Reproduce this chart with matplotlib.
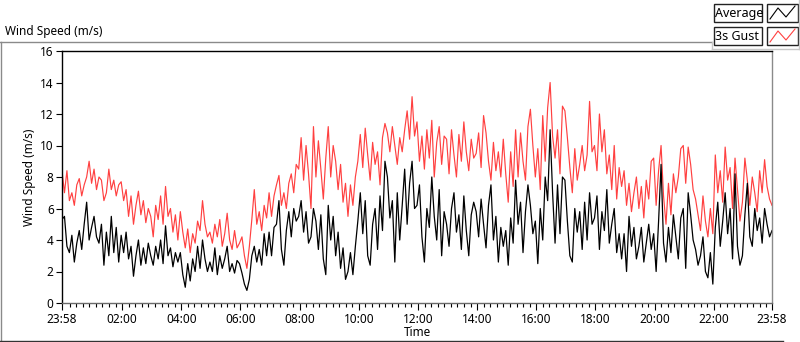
import numpy as np
import matplotlib
matplotlib.use("Agg")
import matplotlib.pyplot as plt
from matplotlib.lines import Line2D
from matplotlib.patches import Rectangle

plt.rcParams['font.family'] = ['Noto Sans', 'DejaVu Sans']

# one sample every 5 minutes, starting 23:58 the day before
minutes = np.arange(0, 1441, 5)

gust = [
    8.4, 7.0, 8.4, 6.5, 7.0, 6.2, 7.5, 7.9, 6.8, 7.5, 8.0, 9.0,
    7.6, 8.5, 7.2, 8.0, 7.8, 6.5, 7.0, 8.5, 7.2, 7.8, 6.8, 7.5,
    7.7, 6.5, 7.2, 5.5, 6.8, 5.0, 6.2, 7.1, 5.6, 6.5, 5.1, 6.0,
    5.5, 4.2, 6.2, 5.3, 6.8, 5.0, 7.4, 5.5, 6.0, 4.5, 5.6, 4.0,
    5.8, 4.5, 3.5, 4.7, 3.2, 4.4, 3.8, 5.2, 4.6, 6.5, 5.0, 4.2,
    4.5, 3.8, 5.0, 4.2, 5.3, 3.6, 4.4, 5.7, 4.0, 3.4, 4.6, 3.5,
    3.8, 4.2, 3.0, 2.2, 3.6, 5.3, 7.2, 5.0, 5.8, 4.6, 6.2, 5.4,
    7.0, 5.5, 6.8, 7.5, 8.1, 6.2, 7.0, 6.0, 7.6, 8.2, 7.0, 8.8,
    8.5, 10.5, 7.8, 10.0, 8.2, 6.0, 11.2, 8.0, 10.3, 8.5, 6.6, 9.2,
    11.2, 8.0, 10.0, 9.0, 7.2, 8.8, 6.4, 7.6, 5.5, 7.5, 6.2, 8.0,
    9.0, 10.7, 8.6, 11.1, 9.4, 7.8, 10.2, 8.8, 9.6, 7.5, 10.5, 11.4,
    10.8, 9.6, 11.2, 10.0, 8.8, 10.5, 9.6, 11.0, 12.2, 10.4, 13.1, 10.6,
    11.5, 9.0, 10.6, 8.5, 11.0, 9.2, 11.6, 8.0, 10.2, 11.2, 8.8, 10.6,
    10.4, 8.2, 11.0, 9.4, 8.0, 10.7, 9.0, 11.5, 9.6, 8.4, 10.4, 9.2,
    9.5, 10.8, 8.6, 11.9, 10.8, 9.0, 7.8, 10.2, 8.4, 9.6, 8.0, 10.4,
    8.2, 6.4, 9.6, 7.4, 11.0, 8.0, 10.8, 9.0, 7.8, 11.2, 12.3, 10.0,
    8.0, 9.8, 7.2, 11.9, 9.0, 12.4, 14.0, 10.6, 9.2, 11.0, 8.2, 12.5,
    12.2, 10.5, 8.6, 7.0, 9.8, 7.8, 8.8, 10.0, 8.4, 9.4, 12.8, 9.6,
    10.0, 8.4, 12.0, 9.6, 11.0, 8.2, 9.4, 7.2, 10.0, 6.6, 8.6, 7.4,
    8.4, 6.2, 7.6, 5.8, 7.0, 8.0, 6.0, 7.4, 5.4, 7.8, 6.6, 9.0,
    9.2, 6.2, 8.4, 10.0, 6.8, 5.0, 7.6, 5.6, 8.2, 7.0, 8.0, 9.8,
    10.0, 7.6, 9.9, 8.8, 7.2, 6.6, 5.6, 4.6, 6.8, 5.2, 4.2, 6.0,
    4.4, 9.4, 7.0, 8.4, 6.4, 9.9, 7.8, 8.6, 6.0, 9.2, 7.2, 5.2,
    6.4, 9.2, 7.8, 6.2, 8.0, 7.0, 5.8, 8.4, 7.0, 9.1, 7.4, 6.6, 6.2,
]

average = [
    5.3, 5.5, 3.6, 3.2, 4.3, 2.6, 3.8, 4.6, 3.4, 5.0, 6.4, 4.0,
    4.8, 5.5, 4.2, 3.8, 5.0, 2.4, 4.5, 3.0, 5.5, 3.2, 4.8, 2.6,
    4.3, 3.2, 4.5, 2.8, 3.6, 1.7, 3.0, 4.0, 2.4, 3.5, 2.5, 3.8,
    3.0, 2.4, 3.6, 2.8, 4.0, 2.5, 4.9, 3.0, 3.5, 2.3, 3.2, 2.6,
    3.2, 1.8, 1.0, 2.5, 1.4, 2.8, 2.0, 3.6, 2.2, 4.0, 2.8, 2.0,
    2.6, 2.0, 3.5, 1.8, 3.0, 2.2, 2.8, 3.6, 2.0, 2.5, 1.9, 2.7,
    2.5, 1.9, 1.2, 0.8, 1.5, 3.0, 3.6, 2.6, 3.4, 2.4, 4.4, 3.0,
    4.5, 3.0, 4.8, 5.0, 6.5, 3.4, 2.4, 4.6, 5.8, 4.2, 6.0, 5.2,
    5.5, 6.5, 4.5, 5.8, 3.8, 4.2, 6.0, 5.2, 3.4, 5.6, 2.8, 1.8,
    6.2, 4.0, 5.5, 3.0, 4.5, 2.2, 3.5, 1.5, 2.0, 3.2, 1.8, 3.6,
    5.2, 7.0, 4.4, 6.5, 3.0, 2.4, 5.0, 6.0, 3.4, 6.8, 4.6, 9.0,
    8.0, 5.4, 6.5, 2.6, 7.0, 4.0, 6.2, 8.5, 5.0, 7.6, 9.0, 6.0,
    6.2, 7.5, 4.2, 2.6, 6.0, 4.8, 8.0, 5.5, 4.0, 7.2, 3.0, 5.8,
    5.0, 3.6, 6.0, 7.0, 4.5, 5.6, 3.4, 6.8, 4.6, 3.0, 5.6, 6.4,
    5.8, 4.2, 6.6, 5.0, 3.5, 6.2, 7.5, 4.0, 5.5, 2.6, 4.8, 3.6,
    4.6, 2.4, 5.4, 3.8, 7.8, 5.0, 6.4, 3.2, 5.8, 7.5, 6.2, 4.4,
    5.2, 2.5, 6.0, 4.0, 8.0, 6.5, 11.0, 7.0, 3.8, 7.5, 4.4, 8.0,
    7.8, 5.2, 3.0, 2.6, 6.0, 4.5, 5.8, 3.4, 6.4, 4.0, 7.0, 5.0,
    5.4, 6.8, 3.4, 5.8, 4.6, 7.2, 3.8, 5.0, 6.0, 3.2, 4.4, 2.8,
    4.4, 2.0, 5.5, 3.6, 4.8, 2.8, 3.6, 4.8, 2.6, 3.8, 5.0, 3.4,
    4.4, 2.0, 5.2, 8.8, 3.8, 2.6, 4.8, 3.2, 5.6, 4.2, 2.8, 5.4,
    6.0, 2.2, 7.0, 5.6, 4.0, 3.4, 2.4, 3.0, 4.2, 2.0, 1.6, 3.2,
    1.2, 4.8, 6.4, 3.6, 5.2, 7.0, 4.4, 6.0, 2.8, 8.2, 3.6, 2.4,
    3.0, 5.6, 7.6, 4.2, 3.6, 6.0, 4.6, 5.4, 3.8, 6.0, 5.0, 4.2, 4.6,
]

tick_pos = [0, 122, 242, 362, 482, 602, 722, 842, 962, 1082, 1202, 1322, 1440]
tick_labels = ["23:58", "02:00", "04:00", "06:00", "08:00", "10:00", "12:00",
               "14:00", "16:00", "18:00", "20:00", "22:00", "23:58"]

W, H = 800, 342
fig = plt.figure(figsize=(W / 100, H / 100), dpi=100)

def fx(x):
    return x / W

def fy(y):
    return 1 - y / H

ax = fig.add_axes([fx(62), fy(303), fx(772) - fx(62), fy(51) - fy(303)])

ax.plot(minutes, gust, color="#ff4040", lw=0.85)
ax.plot(minutes, average, color="black", lw=0.9)

ax.set_xlim(0, 1440)
ax.set_ylim(0, 16)
ax.set_yticks(range(0, 17, 2))
ax.set_xticks(tick_pos)
ax.set_xticklabels(tick_labels)
minor = [m for m in np.arange(2, 1440, 40 / 3) if min(abs(m - t) for t in tick_pos) > 3]
ax.set_xticks(minor, minor=True)

ax.tick_params(axis="both", labelsize=8.5, colors="black", width=0.8, pad=2)
ax.tick_params(axis="x", which="major", length=5)
ax.tick_params(axis="x", which="minor", length=3, width=0.8)
ax.tick_params(axis="y", length=4)

ax.spines["top"].set_color("black")
ax.spines["left"].set_color("black")
ax.spines["right"].set_color("#8a8a8a")
ax.spines["bottom"].set_color("#6a6a6a")
for s in ax.spines.values():
    s.set_linewidth(1.0)

ax.set_xlabel("Time", fontsize=8.5, labelpad=0)
ax.set_ylabel("Wind Speed (m/s)", fontsize=8.5, labelpad=3)

# outer frame and title, LabVIEW style
fig.text(fx(5), fy(31), "Wind Speed (m/s)", fontsize=8.5, va="center", ha="left")
frame = "#8a8a8a"
fig.add_artist(Line2D([fx(0), fx(712)], [fy(42), fy(42)], color=frame, lw=1))
fig.add_artist(Line2D([fx(0.5), fx(0.5)], [fy(42), fy(341)], color=frame, lw=1))
fig.add_artist(Line2D([fx(0), fx(783)], [fy(341), fy(341)], color="#333333", lw=1))
fig.add_artist(Line2D([fx(712), fx(712)], [fy(42), fy(49)], color="#c8c8c8", lw=1))
fig.add_artist(Line2D([fx(712), fx(799)], [fy(49), fy(49)], color="#c8c8c8", lw=1))
fig.add_artist(Line2D([fx(799), fx(799)], [fy(0), fy(49)], color="#c8c8c8", lw=1))

# legend boxes
names = ["Average", "3s Gust"]
colors = ["black", "#ff4040"]
for i, (name, col) in enumerate(zip(names, colors)):
    top = 4 + i * 23
    fig.add_artist(Rectangle((fx(714), fy(top + 18)), fx(48), 18 / H, transform=fig.transFigure,
                             facecolor="white", edgecolor="#222222", lw=1))
    fig.text(fx(715), fy(top + 9), name, fontsize=9, va="center", ha="left")
    fig.add_artist(Rectangle((fx(767), fy(top + 18)), fx(31), 18 / H, transform=fig.transFigure,
                             facecolor="white", edgecolor="#222222", lw=1))
    zx = [770, 778, 786, 795]
    zy = [top + 15, top + 4, top + 13, top + 2]
    fig.add_artist(Line2D([fx(v) for v in zx], [fy(v) for v in zy], color=col, lw=0.8))

fig.savefig("out.png", dpi=100, facecolor="white")
